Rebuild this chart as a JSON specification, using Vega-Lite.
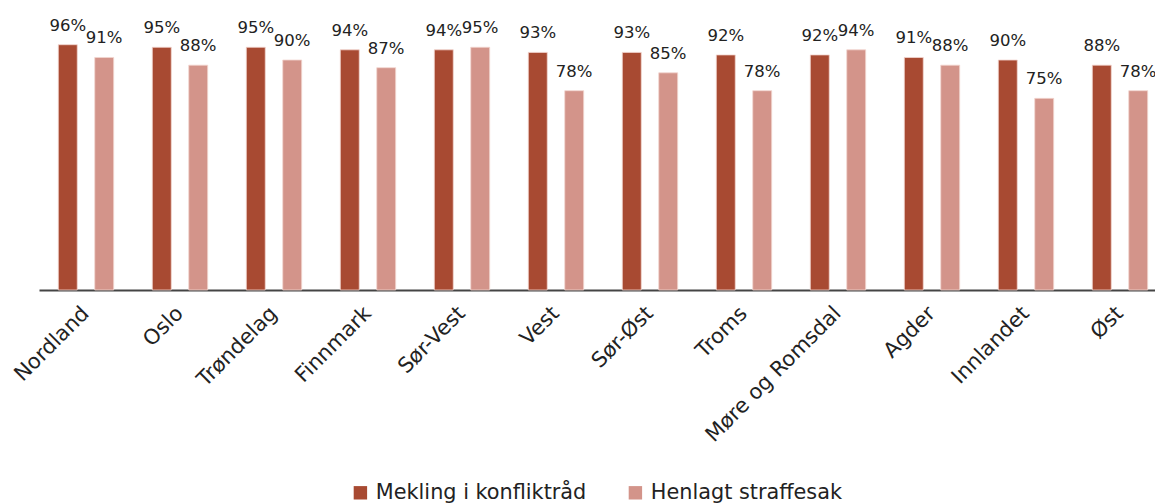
{
  "$schema": "https://vega.github.io/schema/vega-lite/v6.json",
  "width": 1116,
  "height": 290,
  "autosize": "none",
  "padding": {"left": 39, "top": 0, "right": 0, "bottom": 214},
  "background": "white",
  "config": {"view": {"stroke": null}, "font": "DejaVu Sans"},
  "data": {
    "values": [
      {"region": "Nordland", "serie": "Mekling i konfliktråd", "v": 0.96},
      {"region": "Nordland", "serie": "Henlagt straffesak", "v": 0.91},
      {"region": "Oslo", "serie": "Mekling i konfliktråd", "v": 0.95},
      {"region": "Oslo", "serie": "Henlagt straffesak", "v": 0.88},
      {"region": "Trøndelag", "serie": "Mekling i konfliktråd", "v": 0.95},
      {"region": "Trøndelag", "serie": "Henlagt straffesak", "v": 0.90},
      {"region": "Finnmark", "serie": "Mekling i konfliktråd", "v": 0.94},
      {"region": "Finnmark", "serie": "Henlagt straffesak", "v": 0.87},
      {"region": "Sør-Vest", "serie": "Mekling i konfliktråd", "v": 0.94},
      {"region": "Sør-Vest", "serie": "Henlagt straffesak", "v": 0.95},
      {"region": "Vest", "serie": "Mekling i konfliktråd", "v": 0.93},
      {"region": "Vest", "serie": "Henlagt straffesak", "v": 0.78},
      {"region": "Sør-Øst", "serie": "Mekling i konfliktråd", "v": 0.93},
      {"region": "Sør-Øst", "serie": "Henlagt straffesak", "v": 0.85},
      {"region": "Troms", "serie": "Mekling i konfliktråd", "v": 0.92},
      {"region": "Troms", "serie": "Henlagt straffesak", "v": 0.78},
      {"region": "Møre og Romsdal", "serie": "Mekling i konfliktråd", "v": 0.92},
      {"region": "Møre og Romsdal", "serie": "Henlagt straffesak", "v": 0.94},
      {"region": "Agder", "serie": "Mekling i konfliktråd", "v": 0.91},
      {"region": "Agder", "serie": "Henlagt straffesak", "v": 0.88},
      {"region": "Innlandet", "serie": "Mekling i konfliktråd", "v": 0.90},
      {"region": "Innlandet", "serie": "Henlagt straffesak", "v": 0.75},
      {"region": "Øst", "serie": "Mekling i konfliktråd", "v": 0.88},
      {"region": "Øst", "serie": "Henlagt straffesak", "v": 0.78}
    ]
  },
  "encoding": {
    "x": {
      "field": "region", "type": "nominal", "sort": null,
      "scale": {"paddingInner": 0, "paddingOuter": 0, "range": [0, 1128]},
      "axis": {
        "title": null, "labelAngle": -45, "labelAlign": "right", "labelBaseline": "middle",
        "labelFontSize": 21, "labelColor": "#222222", "ticks": false, "labelPadding": 20,
        "domainColor": "#444444", "domainWidth": 2, "labelOverlap": false, "labelLimit": 300
      }
    },
    "xOffset": {
      "field": "serie", "type": "nominal", "sort": ["Mekling i konfliktråd", "Henlagt straffesak"],
      "scale": {"paddingInner": 0.48, "paddingOuter": 0.53}
    },
    "y": {
      "field": "v", "type": "quantitative",
      "scale": {"domain": [0, 1.135], "nice": false},
      "axis": null
    }
  },
  "layer": [
    {
      "mark": {"type": "bar", "stroke": "#f3d6cf", "strokeWidth": 0.8},
      "encoding": {
        "color": {
          "field": "serie", "type": "nominal",
          "sort": ["Mekling i konfliktråd", "Henlagt straffesak"],
          "scale": {"domain": ["Mekling i konfliktråd", "Henlagt straffesak"], "range": ["#A84A32", "#D3948A"]},
          "legend": {
            "title": null, "orient": "none", "direction": "horizontal",
            "legendX": 311, "legendY": 482,
            "symbolType": "square", "symbolSize": 180, "symbolStrokeWidth": 0,
            "labelFontSize": 20.8, "labelColor": "#222222", "labelOffset": 5,
            "columnPadding": 38, "labelLimit": 400
          }
        }
      }
    },
    {
      "mark": {"type": "text", "baseline": "alphabetic", "dy": -14, "fontSize": 16.5, "color": "#222222"},
      "encoding": {
        "text": {"field": "v", "type": "quantitative", "format": ".0%"}
      }
    }
  ]
}
